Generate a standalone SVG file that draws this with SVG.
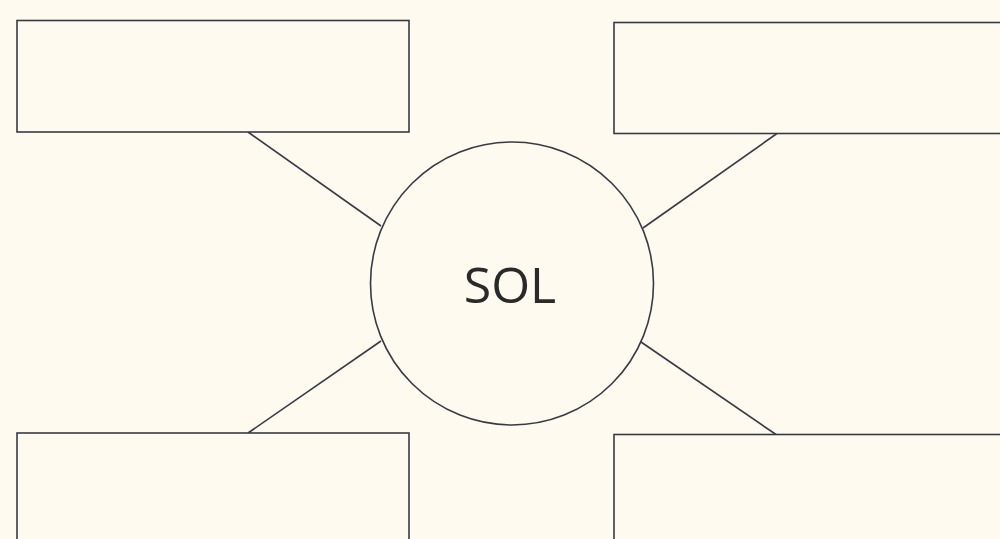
<svg xmlns="http://www.w3.org/2000/svg" width="1000" height="539" viewBox="0 0 1000 539">
<style>
.n{fill:#fefaf0;stroke:#3a3a44;stroke-width:1.6}
.c{stroke:#3a3a44;stroke-width:1.6;fill:none}
.t{font-family:"Open Sans",sans-serif;font-size:50px;fill:#2a2a2a}
</style>
<rect width="1000" height="539" fill="#fefaf0"/>
<g id="connectors">
<line class="c" x1="248" y1="132" x2="381" y2="226"/>
<line class="c" x1="777" y1="133.5" x2="643" y2="228"/>
<line class="c" x1="381" y1="341" x2="248" y2="433"/>
<line class="c" x1="641" y1="342" x2="776" y2="434.5"/>
</g>
<g id="box-tl"><rect class="n" x="17" y="20.5" width="392" height="111.5"/></g>
<g id="box-tr"><rect class="n" x="614" y="22.5" width="400" height="111"/></g>
<g id="box-bl"><rect class="n" x="17" y="433" width="392" height="120"/></g>
<g id="box-br"><rect class="n" x="614" y="434.5" width="400" height="120"/></g>
<g id="sol">
<circle class="n" cx="512" cy="283.5" r="141.5"/>
<text class="t" x="510" y="303" text-anchor="middle">SOL</text>
</g>
</svg>
